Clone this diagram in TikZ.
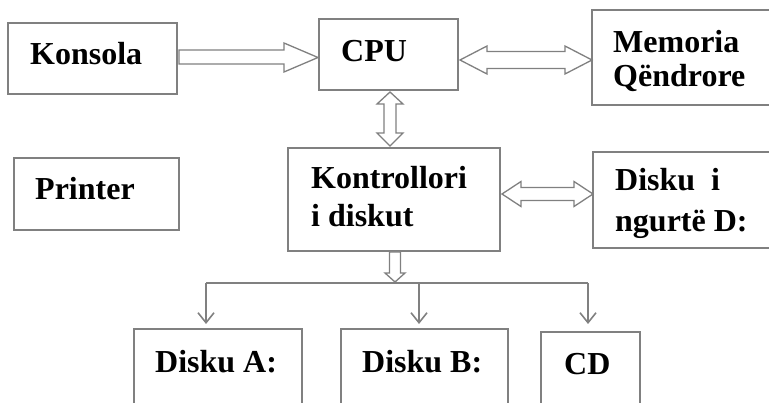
\documentclass[tikz,border=0pt]{standalone}
\usepackage{fontspec}
\setmainfont{Liberation Serif}
\usetikzlibrary{arrows.meta}
\definecolor{lc}{RGB}{128,128,128}
\tikzset{
  box/.style={draw=lc, line width=1.6pt, fill=none},
  lbl/.style={anchor=base west, inner sep=0pt, text=black,
              font=\fontsize{32}{36}\selectfont\bfseries},
  blk/.style={draw=lc, line width=1.3pt, fill=white, line join=miter},
  tree/.style={draw=lc, line width=1.6pt},
  treearrow/.style={tree, -{Straight Barb[length=10pt,width=16pt,line width=1.6pt]}}
}
\begin{document}
\begin{tikzpicture}[x=1pt,y=-1pt]
\useasboundingbox (0,0) rectangle (769,403);
\clip (0,0) rectangle (769,403);
% boxes
\draw[box] (8,23) rectangle (177,94);
\draw[box] (319,19) rectangle (458,90);
\draw[box] (592,10) rectangle (800,105);
\draw[box] (14,158) rectangle (179,230);
\draw[box] (288,148) rectangle (500,251);
\draw[box] (593,152) rectangle (800,248);
\draw[box] (134,329) rectangle (302,430);
\draw[box] (341,329) rectangle (508,430);
\draw[box] (541,332) rectangle (640,430);
% texts
\node[lbl] (konsola) at (30,65) {Konsola};
\node[lbl] (cpu) at (341,62) {CPU};
\node[lbl] (mem1) at (613,53) {Memoria};
\node[lbl] (mem2) at (613,87) {Qëndrore};
\node[lbl] (printer) at (35,200) {Printer};
\node[lbl] (kd1) at (311,189) {Kontrollori};
\node[lbl] (kd2) at (311,227) {i diskut};
\node[lbl] (dd1) at (615,191) {Disku\ \ i};
\node[lbl] (dd2) at (615,232) {ngurtë D:};
\node[lbl] (da) at (155,373) {Disku A:};
\node[lbl] (db) at (362,373) {Disku B:};
\node[lbl] (cd) at (564,375) {CD};
% Konsola -> CPU
\draw[blk] (179,50) -- (284,50) -- (284,43) -- (318,57.5) -- (284,72) -- (284,64) -- (179,64) -- cycle;
% CPU <-> Memoria
\draw[blk] (460,60) -- (487,46) -- (487,51.5) -- (565,51.5) -- (565,46) -- (592,60)
  -- (565,74) -- (565,68.5) -- (487,68.5) -- (487,74) -- cycle;
% CPU <-> Kontrollori
\draw[blk] (390,92) -- (403,104) -- (396,104) -- (396,133) -- (403,133) -- (390,146)
  -- (377,133) -- (384,133) -- (384,104) -- (377,104) -- cycle;
% Kontrollori <-> Disku D
\draw[blk] (502,194) -- (521,181.5) -- (521,187.5) -- (574,187.5) -- (574,181.5) -- (593,194)
  -- (574,206.5) -- (574,200.5) -- (521,200.5) -- (521,206.5) -- cycle;
% Kontrollori -> bus
\draw[blk] (389.5,252) -- (400.5,252) -- (400.5,273) -- (405,273) -- (395,282)
  -- (385,273) -- (389.5,273) -- cycle;
% distribution
\coordinate (ja) at (206,283);
\coordinate (jb) at (419,283);
\coordinate (jc) at (588,283);
\draw[tree] (ja) -- (jc);
\draw[treearrow] (ja) -- (206,324);
\draw[treearrow] (jb) -- (419,324);
\draw[treearrow] (jc) -- (588,324);
\end{tikzpicture}
\end{document}
